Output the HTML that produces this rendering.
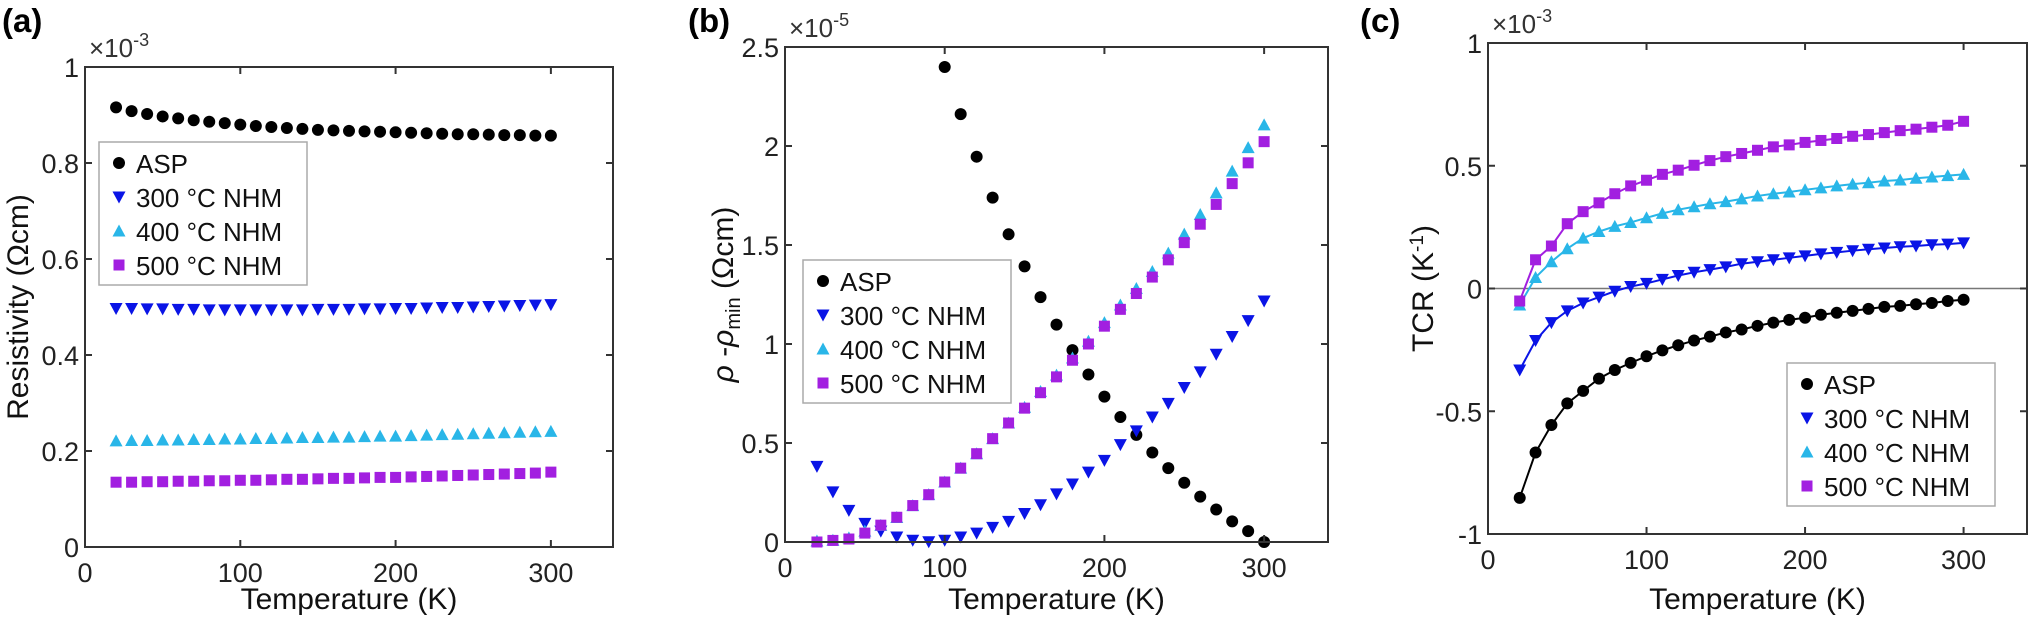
<!DOCTYPE html>
<html><head><meta charset="utf-8">
<style>
html,body{margin:0;padding:0;background:#fff;}
svg{display:block;font-family:"Liberation Sans",sans-serif;}
</style></head>
<body>
<svg id="fig" width="2029" height="620" viewBox="0 0 2029 620"></svg>
<script>
const temps = [20,30,40,50,60,70,80,90,100,110,120,130,140,150,160,170,180,190,200,210,220,230,240,250,260,270,280,290,300];
const seriesNames = ["ASP","300 °C NHM","400 °C NHM","500 °C NHM"];
// panel a (x1e-3)
const aASP = [.916,.908,.902,.897,.893,.889,.886,.883,.880,.877,.875,.873,.871,.869,.868,.867,.866,.865,.864,.863,.862,.861,.860,.860,.859,.858,.858,.857,.857];
const a300 = [.497,.497,.496,.496,.495,.495,.494,.494,.494,.494,.494,.494,.494,.495,.495,.495,.496,.496,.497,.497,.498,.499,.499,.500,.501,.502,.503,.504,.505];
const a400 = [.221,.222,.222,.223,.223,.224,.224,.225,.225,.226,.226,.227,.228,.228,.229,.229,.230,.231,.231,.232,.233,.234,.235,.236,.237,.238,.239,.240,.241];
const a500 = [.135,.135,.136,.136,.137,.137,.138,.138,.139,.139,.140,.141,.141,.142,.143,.143,.144,.145,.145,.146,.147,.148,.149,.150,.151,.152,.153,.154,.156];
// panel b (x1e-5)
const bTempsASP = [100,110,120,130,140,150,160,170,180,190,200,210,220,230,240,250,260,270,280,290,300];
const bASP = [2.399,2.161,1.946,1.739,1.554,1.392,1.237,1.098,.969,.846,.734,.631,.541,.452,.373,.299,.229,.164,.104,.055,0];
const b300 = [.382,.253,.160,.094,.055,.025,.009,.001,.009,.025,.045,.074,.104,.144,.188,.243,.293,.353,.412,.492,.561,.631,.700,.780,.859,.948,1.038,1.118,1.217];
const b400 = [.005,.009,.021,.055,.084,.124,.184,.239,.303,.373,.446,.522,.601,.680,.760,.843,.929,1.014,1.108,1.197,1.280,1.366,1.459,1.555,1.654,1.763,1.873,1.992,2.107];
const b500 = [0,.008,.015,.045,.085,.125,.184,.239,.303,.373,.446,.522,.601,.676,.754,.834,.918,1.000,1.090,1.175,1.255,1.338,1.425,1.512,1.605,1.705,1.810,1.915,2.022];
// panel c (x1e-3)
const cASP = [-.853,-.668,-.556,-.468,-.417,-.367,-.332,-.303,-.276,-.252,-.231,-.212,-.196,-.179,-.167,-.152,-.139,-.128,-.119,-.107,-.099,-.091,-.083,-.075,-.071,-.064,-.059,-.051,-.046];
const c300 = [-.332,-.212,-.139,-.091,-.059,-.035,-.011,.008,.021,.037,.053,.066,.077,.088,.101,.109,.117,.125,.133,.141,.147,.154,.160,.165,.170,.173,.178,.181,.186];
const c400 = [-.067,.045,.109,.162,.205,.232,.253,.269,.288,.306,.321,.333,.345,.354,.365,.377,.386,.393,.402,.410,.418,.425,.431,.438,.442,.449,.454,.460,.465];
const c500 = [-.051,.117,.173,.264,.313,.349,.386,.418,.441,.465,.482,.502,.521,.537,.550,.563,.577,.585,.595,.603,.611,.620,.627,.635,.643,.649,.657,.665,.681];
const aYTicks = [0,0.2,0.4,0.6,0.8,1];
const aYLabels = ["0","0.2","0.4","0.6","0.8","1"];
const bYTicks = [0,0.5,1,1.5,2,2.5];
const bYLabels = ["0","0.5","1","1.5","2","2.5"];
const cYTicks = [-1,-0.5,0,0.5,1];
const cYLabels = ["-1","-0.5","0","0.5","1"];
const xTicks = [0,100,200,300];

const NS="http://www.w3.org/2000/svg";
const svg=document.getElementById('fig');
function mk(tag,attrs,parent){const e=document.createElementNS(NS,tag);for(const k in attrs)e.setAttribute(k,attrs[k]);(parent||svg).appendChild(e);return e;}
const COLORS=["#000000","#0a14e6","#29b6e8","#a21fe0"];

function marker(g,type,x,y,color){
  let e;
  if(type===0){e=mk('circle',{cx:x,cy:y,r:6,fill:color},g);}
  else if(type===1){e=mk('polygon',{points:`${x-6.5},${y-5.5} ${x+6.5},${y-5.5} ${x},${y+6.5}`,fill:color},g);}
  else if(type===2){e=mk('polygon',{points:`${x-6.5},${y+5.5} ${x+6.5},${y+5.5} ${x},${y-6.5}`,fill:color},g);}
  else {e=mk('rect',{x:x-5.5,y:y-5.5,width:11,height:11,fill:color},g);}
  return e;
}

function panel(P){
  const g=mk('g',{});
  
  
  const xs=v=>P.l+(v-0)/(340)*(P.r-P.l);
  const ys=v=>P.b-(v-P.ymin)/(P.ymax-P.ymin)*(P.b-P.t);
  if(P.zero){const z=mk('line',{x1:P.l,x2:P.r,y1:ys(0),y2:ys(0),stroke:'#777','stroke-width':1.5},g);
    }
  P.series.forEach((s,i)=>{
    const sg=mk('g',{},g);
    
    
    if(P.lines){
      const pts=s.x.map((t,k)=>xs(t)+','+ys(s.y[k])).join(' ');
      mk('polyline',{points:pts,fill:'none',stroke:COLORS[i],'stroke-width':2},sg);
    }
    s.x.forEach((t,k)=>{const m=marker(sg,i,xs(t),ys(s.y[k]),COLORS[i]);
      });
  });
  const box=mk('rect',{x:P.l,y:P.t,width:P.r-P.l,height:P.b-P.t,fill:'none',stroke:'#333','stroke-width':2},g);
  
  xTicks.forEach(v=>{
    const x=xs(v);
    mk('line',{x1:x,x2:x,y1:P.b,y2:P.b-7,stroke:'#333','stroke-width':2},g);
    mk('line',{x1:x,x2:x,y1:P.t,y2:P.t+7,stroke:'#333','stroke-width':2},g);
    const t=mk('text',{x:x,y:P.b+35,'text-anchor':'middle','font-size':27,fill:'#222'},g);
    t.textContent=v;
  });
  P.yt.forEach((v,i)=>{
    const y=ys(v);
    mk('line',{x1:P.l,x2:P.l+7,y1:y,y2:y,stroke:'#333','stroke-width':2},g);
    mk('line',{x1:P.r,x2:P.r-7,y1:y,y2:y,stroke:'#333','stroke-width':2},g);
    const t=mk('text',{x:P.l-6,y:y+10,'text-anchor':'end','font-size':27,fill:'#222'},g);
    t.textContent=P.yl[i];
  });
  const ex=mk('text',{x:P.l+4,y:P.t-10,'font-size':26,fill:'#333'},g);
  ex.innerHTML='×10<tspan dy="-11" font-size="18">'+P.exp+'</tspan>';
  
  const xt=mk('text',{x:(P.l+P.r)/2,y:609,'text-anchor':'middle','font-size':30,fill:'#111'},g);
  xt.textContent='Temperature (K)';
  const yt=mk('text',{transform:`translate(${P.ytx},${(P.t+P.b)/2}) rotate(-90)`,'text-anchor':'middle','font-size':30,fill:'#111'},g);
  yt.innerHTML=P.ytitle;
  const pl=mk('text',{x:P.plx,y:32,'font-size':33,'font-weight':'bold',fill:'#000'},g);
  pl.textContent='('+P.id+')';
  const L=P.leg;
  const lg=mk('g',{},g);
  
  mk('rect',{x:L.x,y:L.y,width:208,height:143,fill:'#fff',stroke:'#aaa','stroke-width':1.5},lg);
  seriesNames.forEach((n,i)=>{
    const cy=L.y+21+i*34;
    const eg=mk('g',{},lg);
    
    marker(eg,i,L.x+20,cy,COLORS[i]);
    const t=mk('text',{x:L.x+37,y:cy+10,'font-size':26,fill:'#111'},eg);
    t.textContent=n;
  });
}

panel({id:'a',l:85,r:613,t:67,b:547,ymin:0,ymax:1,yt:aYTicks,yl:aYLabels,exp:'-3',ytx:28,plx:2,
  ytitle:'Resistivity (Ωcm)',leg:{x:99,y:142},
  series:[{x:temps,y:aASP},{x:temps,y:a300},{x:temps,y:a400},{x:temps,y:a500}]});
panel({id:'b',l:785,r:1328,t:47,b:542,ymin:0,ymax:2.5,yt:bYTicks,yl:bYLabels,exp:'-5',ytx:733,plx:688,
  ytitle:'<tspan font-style="italic">ρ</tspan> -<tspan font-style="italic">ρ</tspan><tspan dy="7" font-size="20">min</tspan><tspan dy="-7"> (Ωcm)</tspan>',leg:{x:803,y:260},
  series:[{x:bTempsASP,y:bASP},{x:temps,y:b300},{x:temps,y:b400},{x:temps,y:b500}]});
panel({id:'c',l:1488,r:2027,t:43,b:534,ymin:-1,ymax:1,yt:cYTicks,yl:cYLabels,exp:'-3',ytx:1433,plx:1360,zero:true,lines:true,
  ytitle:'TCR (K<tspan dy="-10" font-size="19">-1</tspan><tspan dy="10">)</tspan>',leg:{x:1787,y:363},
  series:[{x:temps,y:cASP},{x:temps,y:c300},{x:temps,y:c400},{x:temps,y:c500}]});
</script>
</body></html>
